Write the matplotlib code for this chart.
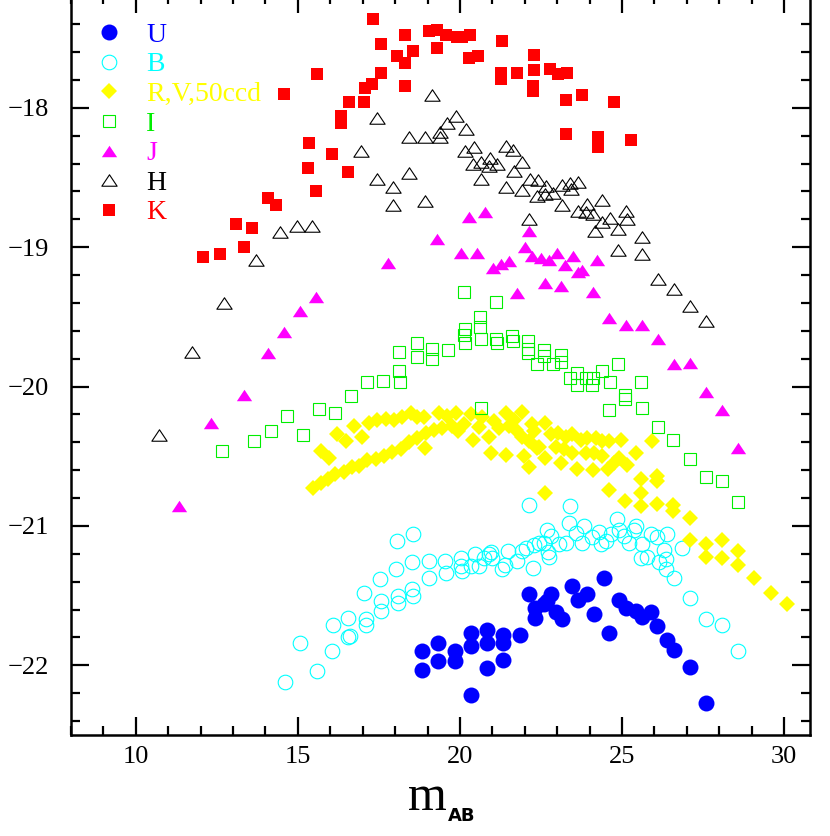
import numpy as np
import matplotlib
matplotlib.use("Agg")
import matplotlib.pyplot as plt
from matplotlib.ticker import MultipleLocator
from matplotlib.path import Path

# U band (filled blue circles)
u_x = [18.84, 18.84, 19.33, 19.33, 19.85, 19.85, 20.33, 20.35, 20.33, 20.84,
       20.84, 20.82, 21.34, 21.34, 21.34, 21.84, 22.13, 22.31, 22.31, 22.69,
       22.80, 22.59, 22.95, 23.16, 23.45, 23.65, 23.93, 24.14, 24.44, 24.60,
       24.91, 25.11, 25.42, 25.63, 25.89, 26.09, 26.40, 26.60, 27.10, 27.58]
u_y = [-21.90, -22.03, -21.84, -21.97, -21.90, -21.97, -21.77, -21.86, -22.21, -21.75,
       -21.84, -22.02, -21.78, -21.84, -21.96, -21.78, -21.49, -21.59, -21.66, -21.54,
       -21.49, -21.56, -21.62, -21.67, -21.43, -21.53, -21.49, -21.63, -21.37, -21.77,
       -21.53, -21.59, -21.61, -21.65, -21.62, -21.72, -21.82, -21.89, -22.01, -22.27]

# B band (open cyan circles)
b_x = [14.60, 15.08, 15.60, 16.06, 16.08, 16.55, 16.55, 16.60, 17.04, 17.09,
       17.11, 17.53, 17.57, 17.57, 18.02, 18.10, 18.10, 18.53, 18.56, 18.05,
       18.56, 18.53, 19.04, 19.06, 19.53, 19.58, 20.02, 20.02, 20.07, 20.33,
       20.46, 20.59, 20.74, 20.90, 20.95, 21.00, 21.31, 21.39, 21.49, 21.77,
       21.92, 22.03, 22.25, 22.13, 22.28, 22.44, 22.59, 22.69, 22.73, 23.39,
       22.75, 22.80, 23.06, 23.26, 23.36, 23.57, 23.83, 23.78, 24.08, 24.29,
       24.34, 24.50, 24.65, 24.86, 24.91, 25.06, 25.22, 25.37, 25.42, 25.63,
       25.58, 25.78, 25.89, 26.09, 26.14, 26.35, 26.30, 26.40, 26.35, 26.60,
       26.86, 27.10, 27.58, 28.08, 28.59]
b_y = [-22.12, -21.84, -22.04, -21.90, -21.71, -21.66, -21.80, -21.79, -21.48, -21.67,
       -21.71, -21.38, -21.54, -21.61, -21.31, -21.50, -21.55, -21.45, -21.50, -21.11,
       -21.06, -21.26, -21.25, -21.37, -21.25, -21.34, -21.23, -21.29, -21.32, -21.29,
       -21.20, -21.29, -21.23, -21.20, -21.19, -21.23, -21.31, -21.28, -21.18, -21.25,
       -21.18, -21.16, -21.30, -20.85, -21.14, -21.12, -21.12, -21.03, -21.19, -20.86,
       -21.22, -21.07, -21.13, -21.12, -20.98, -21.05, -21.00, -21.12, -21.08, -21.04,
       -21.13, -21.11, -21.06, -20.95, -21.03, -21.07, -21.12, -21.03, -21.00, -21.13,
       -21.23, -21.22, -21.06, -21.08, -21.26, -21.24, -21.17, -21.06, -21.31, -21.37,
       -21.16, -21.52, -21.67, -21.71, -21.90]

# R, V and 50ccd bands (yellow diamonds)
r_x = [15.46, 15.70, 15.94, 16.16, 16.42, 16.68, 16.88, 17.14, 17.40, 17.65,
       17.91, 18.17, 18.43, 18.68, 18.94, 19.20, 19.45, 19.76,
       15.70, 15.96, 16.21, 16.47, 16.73, 16.97, 17.19, 17.45, 17.71, 17.96,
       18.22, 18.48, 18.68, 18.89, 19.35, 19.61, 19.87, 18.91,
       20.33, 20.69, 21.41, 21.90, 22.23, 22.61, 19.95, 20.40, 20.90, 20.95,
       21.43, 21.20, 21.51, 21.72, 21.92, 22.13, 21.98, 22.13, 22.39, 22.61,
       22.61, 20.12, 20.59, 21.05, 21.67, 22.28,
       22.80, 23.03, 23.26, 23.47, 23.73, 23.93, 24.19, 24.39, 24.60, 24.96,
       25.92, 22.44, 22.95, 23.21, 23.47, 23.88, 24.14, 24.39, 23.13, 23.62,
       24.11, 24.58, 24.75, 24.91, 25.15, 25.42, 25.60, 26.09, 26.09, 24.60,
       25.09, 25.60, 25.60, 26.09, 26.58, 26.58, 27.10, 27.10, 27.58, 28.08,
       28.59, 27.58, 28.08, 28.59, 29.07, 29.59, 30.08]
r_y = [-20.73, -20.69, -20.66, -20.63, -20.61, -20.58, -20.57, -20.53, -20.52, -20.50,
       -20.47, -20.45, -20.40, -20.37, -20.33, -20.31, -20.30, -20.28,
       -20.46, -20.51, -20.34, -20.39, -20.28, -20.36, -20.26, -20.24, -20.23, -20.24,
       -20.22, -20.19, -20.22, -20.22, -20.19, -20.21, -20.19, -20.44,
       -20.20, -20.22, -20.19, -20.18, -20.27, -20.26, -20.32, -20.38, -20.36, -20.48,
       -20.49, -20.30, -20.28, -20.31, -20.36, -20.39, -20.50, -20.58, -20.44, -20.51,
       -20.76, -20.27, -20.29, -20.25, -20.24, -20.32,
       -20.34, -20.33, -20.36, -20.34, -20.38, -20.37, -20.37, -20.39, -20.39, -20.38,
       -20.39, -20.43, -20.43, -20.45, -20.48, -20.48, -20.48, -20.50, -20.55, -20.59,
       -20.60, -20.59, -20.55, -20.51, -20.56, -20.48, -20.66, -20.64, -20.68, -20.74,
       -20.82, -20.76, -20.86, -20.84, -20.85, -20.89, -20.94, -21.10, -21.13, -21.10,
       -21.18, -21.22, -21.23, -21.28, -21.37, -21.48, -21.56]

# I band (open green squares)
i_x = [12.66, 13.66, 14.16, 15.15, 14.67, 15.65, 16.14, 16.65, 17.14, 17.63,
       18.15, 18.12, 18.12, 18.66, 18.66, 19.15, 19.15, 19.64, 20.12, 21.12,
       20.62, 20.62, 20.15, 20.12, 20.15, 20.66, 21.12, 21.14, 21.61, 21.64,
       22.11, 22.11, 22.11, 22.59, 22.59, 22.39, 20.66, 22.88, 23.13, 23.13,
       23.39, 23.62, 23.62, 23.88, 24.10, 24.08, 24.37, 24.62, 24.89, 25.09,
       25.09, 25.59, 25.63, 24.60, 26.11, 26.58, 27.10, 27.60, 28.10, 28.59]
i_y = [-20.46, -20.39, -20.32, -20.35, -20.21, -20.16, -20.19, -20.07, -19.97, -19.96,
       -19.97, -19.89, -19.75, -19.69, -19.79, -19.73, -19.80, -19.74, -19.32, -19.39,
       -19.50, -19.57, -19.59, -19.63, -19.69, -19.66, -19.66, -19.69, -19.64, -19.67,
       -19.67, -19.73, -19.76, -19.74, -19.78, -19.84, -20.15, -19.84, -19.77, -19.82,
       -19.94, -19.90, -19.99, -19.94, -19.94, -19.99, -19.89, -19.97, -19.84, -20.06,
       -20.09, -19.97, -20.15, -20.17, -20.29, -20.38, -20.52, -20.65, -20.68, -20.83]

# J band (filled magenta triangles)
j_x = [19.28, 17.79, 15.55, 15.06, 14.57, 14.07, 13.33, 12.32, 11.33, 20.28,
       20.77, 20.02, 20.52, 22.13, 22.01, 22.23, 22.49, 22.75, 23.00, 23.50,
       24.24, 21.03, 21.27, 21.51, 23.24, 23.76, 23.64, 22.62, 23.13, 21.75,
       24.11, 24.60, 25.11, 25.61, 26.11, 26.60, 27.10, 27.59, 28.09, 28.59]
j_y = [-18.94, -19.11, -19.36, -19.46, -19.61, -19.76, -20.06, -20.26, -20.86, -18.78,
       -18.75, -19.04, -19.04, -18.88, -19.00, -19.06, -19.08, -19.09, -19.04, -19.06,
       -19.09, -19.15, -19.12, -19.10, -19.13, -19.16, -19.18, -19.26, -19.28, -19.33,
       -19.32, -19.51, -19.56, -19.56, -19.66, -19.84, -19.83, -20.04, -20.17, -20.44]

# H band (open black triangles)
h_x = [19.15, 17.45, 19.61, 19.87, 18.43, 18.92, 19.40, 19.40, 16.94, 17.45,
       17.94, 18.43, 17.94, 18.92, 14.44, 14.96, 15.44, 13.71, 12.72, 11.74,
       10.73, 20.18, 20.43, 20.15, 21.41, 21.65, 20.40, 20.66, 20.92, 20.90,
       21.15, 21.92, 21.67, 20.66, 21.41, 21.92, 22.16, 22.42, 22.65, 23.14,
       23.40, 23.65, 22.37, 22.62, 22.88, 23.42, 23.16, 23.91, 24.39, 23.64,
       23.88, 24.11, 25.11, 25.15, 24.63, 24.39, 24.16, 24.89, 22.13, 25.63,
       24.88, 25.61, 26.11, 26.60, 27.10, 27.58]
h_y = [-17.91, -18.07, -18.11, -18.06, -18.21, -18.21, -18.21, -18.17, -18.31, -18.51,
       -18.57, -18.47, -18.70, -18.67, -18.89, -18.85, -18.85, -19.09, -19.40, -19.75,
       -20.35, -18.15, -18.28, -18.31, -18.27, -18.30, -18.40, -18.39, -18.36, -18.42,
       -18.40, -18.39, -18.45, -18.51, -18.57, -18.59, -18.51, -18.52, -18.56, -18.55,
       -18.54, -18.53, -18.63, -18.62, -18.61, -18.58, -18.70, -18.69, -18.66, -18.74,
       -18.75, -18.76, -18.74, -18.80, -18.79, -18.82, -18.88, -18.87, -18.80, -18.93,
       -19.02, -19.05, -19.23, -19.30, -19.42, -19.53]

# K band (filled red squares)
k_x = [17.32, 17.55, 18.32, 18.07, 18.32, 18.55, 19.04, 19.30, 19.56, 19.30,
       19.92, 20.05, 20.31, 20.28, 20.55, 17.55, 17.29, 17.06, 18.29, 15.58,
       14.57, 16.57, 17.04, 16.32, 16.32, 15.34, 16.06, 15.32, 16.55, 15.55,
       14.07, 14.31, 13.08, 13.59, 13.33, 12.08, 12.59, 21.31, 22.28, 21.27,
       21.27, 21.77, 22.28, 22.26, 22.26, 22.78, 23.03, 23.29, 23.26, 23.77,
       24.75, 23.26, 24.27, 24.27, 25.27]
k_y = [-17.36, -17.54, -17.48, -17.63, -17.68, -17.59, -17.45, -17.44, -17.48, -17.57,
       -17.49, -17.49, -17.48, -17.64, -17.63, -17.75, -17.83, -17.86, -17.84, -17.76,
       -17.90, -17.96, -17.96, -18.06, -18.11, -18.25, -18.33, -18.43, -18.46, -18.60,
       -18.65, -18.70, -18.83, -18.86, -19.00, -19.07, -19.05, -17.52, -17.62, -17.75,
       -17.79, -17.75, -17.73, -17.84, -17.88, -17.72, -17.76, -17.75, -17.94, -17.91,
       -17.96, -18.19, -18.21, -18.28, -18.23]

band_labels = ['U', 'B', 'R,V,50ccd', 'I', 'J', 'H', 'K']
band_colors = ['#0000ff', '#00ffff', '#ffff00', '#00ee00', '#ff00ff', 'black', '#ff0000']

# flat triangle, wider than tall (closed so the open ones get all three sides)
tri = Path([(-1, -0.75), (1, -0.75), (0, 0.75), (-1, -0.75)],
           [Path.MOVETO, Path.LINETO, Path.LINETO, Path.CLOSEPOLY])


def main():
    serif = ['Liberation Serif', 'DejaVu Serif']
    fig = plt.figure(figsize=(8.3, 8.36), dpi=100)
    ax = fig.add_axes([71 / 830, 101 / 836, 739 / 830, 740 / 836])

    ax.plot(u_x, u_y, ls='none', marker='o', ms=11.5, mfc=band_colors[0], mec=band_colors[0],
            mew=0, label=band_labels[0])
    ax.plot(b_x, b_y, ls='none', marker='o', ms=10.5, mfc='none', mec=band_colors[1],
            mew=0.8, label=band_labels[1])
    ax.plot(r_x, r_y, ls='none', marker='D', ms=8.0, mfc=band_colors[2], mec=band_colors[2],
            mew=0, label=band_labels[2])
    ax.plot(i_x, i_y, ls='none', marker='s', ms=8.2, mfc='none', mec=band_colors[3],
            mew=0.8, label=band_labels[3])
    ax.plot(j_x, j_y, ls='none', marker=tri, ms=11.0, mfc=band_colors[4], mec=band_colors[4],
            mew=0, label=band_labels[4])
    ax.plot(h_x, h_y, ls='none', marker=tri, ms=11.0, mfc='none', mec=band_colors[5],
            mew=0.8, label=band_labels[5])
    ax.plot(k_x, k_y, ls='none', marker='s', ms=8.2, mfc=band_colors[6], mec=band_colors[6],
            mew=0, label=band_labels[6])

    ax.set_xlim(8, 30.8)
    ax.set_ylim(-22.5, -17.19)
    ax.xaxis.set_major_locator(MultipleLocator(5))
    ax.xaxis.set_minor_locator(MultipleLocator(1))
    ax.yaxis.set_major_locator(MultipleLocator(1))
    ax.yaxis.set_minor_locator(MultipleLocator(0.2))

    ax.tick_params(which='both', direction='in', top=True, right=True, width=1.6)
    ax.tick_params(which='major', length=13)
    ax.tick_params(which='minor', length=6.5)
    ax.tick_params(axis='x', which='major', pad=8)
    ax.tick_params(axis='y', which='major', pad=16)
    for lab in ax.get_xticklabels() + ax.get_yticklabels():
        lab.set_fontfamily(serif)
        lab.set_fontsize(19)
    for sp in ax.spines.values():
        sp.set_linewidth(1.8)

    ax.legend(loc='upper left', bbox_to_anchor=(0.032, 0.963), frameon=False,
              handlelength=1.0, handletextpad=0.85, labelspacing=0.15,
              borderpad=0, borderaxespad=0, numpoints=1,
              prop={'family': serif, 'size': 20}, labelcolor=band_colors)

    fig.text(427 / 830, 26 / 836, 'm', ha='center', va='baseline', fontsize=36, family=serif)
    fig.text(448 / 830, 15 / 836, 'AB', ha='left', va='baseline', fontsize=13,
             fontweight='bold', family='DejaVu Sans')

    fig.savefig('out.png', dpi=100)
    plt.close(fig)


if __name__ == '__main__':
    main()
